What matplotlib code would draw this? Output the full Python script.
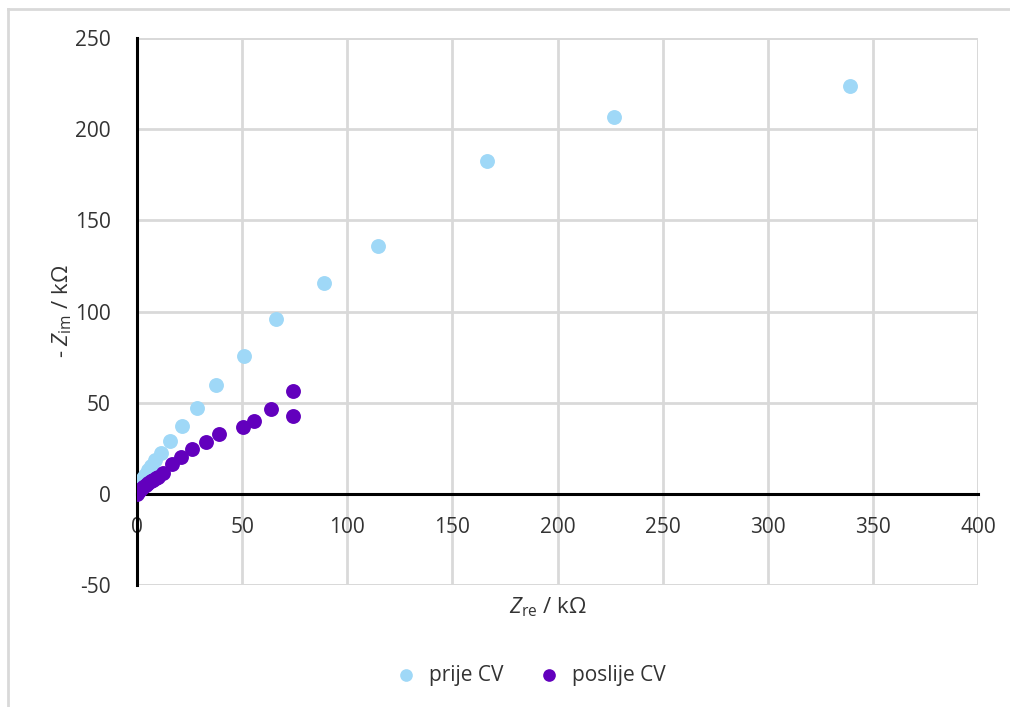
import matplotlib
matplotlib.use("Agg")
import matplotlib.pyplot as plt
from matplotlib.lines import Line2D

plt.rcParams["font.family"] = ["Open Sans", "DejaVu Sans"]
plt.rcParams["mathtext.fontset"] = "custom"
plt.rcParams["mathtext.rm"] = "Open Sans"
plt.rcParams["mathtext.it"] = "Open Sans:italic"
plt.rcParams["axes.unicode_minus"] = False

# prije CV
prije_re = [0.5, 1.0, 2.0, 3.0, 4.0, 5.2, 6.5, 8.6, 11.4, 15.7, 21.4, 28.5,
            37.6, 50.9, 66.1, 88.9, 114.6, 166.5, 226.9, 339.1]
prije_im = [2.0, 4.0, 6.0, 8.5, 10.5, 12.8, 15.0, 18.3, 22.5, 29.1, 37.3, 47.2,
            59.8, 75.7, 96.0, 115.7, 136.0, 182.7, 206.8, 223.8]

# poslije CV
poslije_re = [0.0, 0.5, 0.9, 1.8, 3.0, 4.2, 5.4, 6.6, 7.8, 9.0, 10.1, 12.5,
              16.8, 20.9, 26.0, 32.7, 38.8, 50.3, 55.8, 63.6, 74.0, 74.0]
poslije_im = [0.0, 0.8, 1.8, 2.8, 4.0, 5.0, 5.9, 6.8, 7.7, 8.6, 9.5, 11.3,
              16.3, 20.1, 24.7, 28.7, 32.7, 36.6, 40.2, 46.4, 56.5, 42.8]

x_ticks = [0, 50, 100, 150, 200, 250, 300, 350, 400]
y_ticks = [-50, 0, 50, 100, 150, 200, 250]

BLUE = "#9fd8f7"
PURPLE = "#6200bd"
GRID = "#d9d9d9"

fig = plt.figure(figsize=(10.1, 7.07), dpi=100)
ax = fig.add_axes([137 / 1010, 1 - 585 / 707, (978 - 137) / 1010, (585 - 38) / 707])

ax.scatter(prije_re, prije_im, s=115, color=BLUE, linewidths=0, zorder=3, label="prije CV")
ax.scatter(poslije_re, poslije_im, s=115, color=PURPLE, linewidths=0, zorder=4, label="poslije CV")

ax.set_xlim(0, 400)
ax.set_ylim(-50, 250)
ax.set_xticks(x_ticks)
ax.set_yticks(y_ticks)
ax.grid(True, color=GRID, lw=2)
ax.set_axisbelow(True)

for s in ["top", "right"]:
    ax.spines[s].set_visible(False)
ax.spines["bottom"].set_position(("data", 0))
ax.spines["left"].set_position(("data", 0))
ax.spines["bottom"].set_linewidth(2.2)
ax.spines["left"].set_linewidth(2.2)
ax.spines["bottom"].set_zorder(2)
ax.tick_params(length=0, labelsize=15, colors="#333333")
ax.tick_params(axis="x", pad=17)
ax.tick_params(axis="y", pad=19)

# top/right border lines of plot area in grid colour
ax.axhline(250, color=GRID, lw=2, zorder=0)
ax.axhline(-50, color=GRID, lw=2, zorder=0)
ax.axvline(400, color=GRID, lw=2, zorder=0)

fig.text(548 / 1010, 1 - 607 / 707, r"$\mathit{Z}_{\mathrm{re}}$ / kΩ", ha="center",
         va="center", fontsize=16, color="#333333")
fig.text(62 / 1010, 1 - 311 / 707, r"- $\mathit{Z}_{\mathrm{im}}$ / kΩ", ha="center",
         va="center", rotation=90, fontsize=16, color="#333333")

fig.legend(loc="center", bbox_to_anchor=(0.52, 1 - 675 / 707), ncol=2, frameon=False,
           fontsize=15, handletextpad=0.1, columnspacing=1.2, markerscale=0.85,
           labelcolor="#333333")

# outer chart border
fig.add_artist(Line2D([8 / 1010, 1], [1 - 9 / 707, 1 - 9 / 707], color=GRID, lw=2))
fig.add_artist(Line2D([8 / 1010, 8 / 1010], [0, 1 - 9 / 707], color=GRID, lw=2))

fig.savefig("out.png", dpi=100)
